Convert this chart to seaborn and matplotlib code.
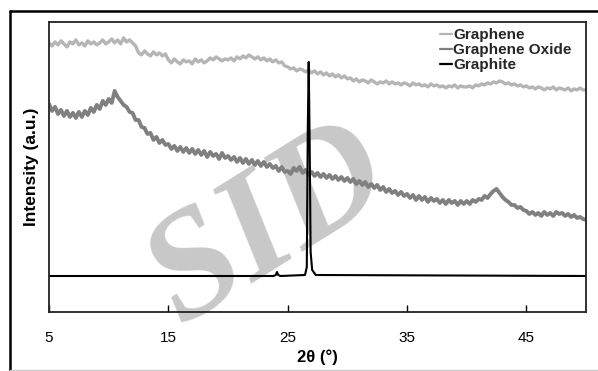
import numpy as np
import pandas as pd
import matplotlib
matplotlib.use('Agg')
import matplotlib.pyplot as plt
import seaborn as sns
from matplotlib.lines import Line2D

# XRD scan grid (2theta, deg) and intensities (a.u.)
two_theta = np.arange(5, 50.01, 0.25)

graphene = [
    269, 266, 270, 267, 271, 268, 265, 270, 268, 272, 267, 269, 266, 271, 268, 270, 267, 269, 272, 268,
    270, 273, 269, 272, 268, 274, 270, 272, 269, 266, 259, 257, 261, 258, 256, 260, 257, 259, 256, 258,
    252, 249, 253, 250, 248, 252, 250, 251, 248, 253, 250, 252, 249, 251, 254, 252, 255, 253, 251, 253,
    252, 254, 251, 255, 253, 256, 254, 257, 255, 253, 255, 252, 254, 251, 253, 250, 252, 249, 250, 246,
    245, 243, 244, 241, 243, 242, 240, 242, 239, 241, 238, 240, 237, 239, 236, 238, 235, 237, 234, 236,
    233, 234, 231, 233, 230, 232, 231, 229, 232, 230, 228, 230, 229, 231, 228, 230, 228, 229, 227, 229,
    228, 226, 229, 227, 228, 226, 227, 225, 228, 226, 227, 225, 226, 224, 226, 225, 227, 224, 226, 225,
    225, 226, 224, 227, 226, 228, 227, 229, 228, 230, 229, 231, 230, 228, 229, 227, 228, 226, 227, 225,
    226, 224, 225, 223, 225, 224, 222, 224, 223, 225, 222, 224, 223, 222, 224, 221, 223, 222, 224, 222,
    222,
]

graphene_oxide = [
    208, 201, 205, 198, 202, 196, 201, 195, 199, 194, 200, 195, 201, 197, 204, 200, 207, 203, 211, 207,
    213, 209, 221, 215, 211, 207, 205, 200, 199, 192, 192, 185, 184, 178, 179, 172, 175, 169, 172, 167,
    168, 163, 166, 161, 165, 160, 164, 159, 163, 158, 162, 157, 161, 155, 160, 156, 158, 153, 159, 154,
    156, 152, 155, 150, 154, 149, 153, 148, 152, 147, 151, 146, 150, 145, 148, 144, 146, 141, 145, 140,
    141, 138, 144, 141, 145, 139, 142, 137, 140, 136, 139, 135, 138, 134, 137, 133, 136, 132, 135, 131,
    134, 130, 133, 128, 131, 127, 130, 125, 128, 124, 127, 122, 125, 120, 123, 119, 121, 117, 120, 116,
    118, 114, 117, 112, 116, 112, 115, 110, 114, 111, 113, 109, 112, 108, 112, 109, 111, 107, 111, 108,
    111, 108, 112, 110, 113, 112, 116, 114, 118, 121, 123, 119, 115, 112, 110, 107, 107, 104, 105, 102,
    101, 98, 100, 97, 99, 96, 100, 97, 99, 96, 100, 98, 99, 96, 98, 95, 97, 94, 95, 93,
    92,
]

graphite_theta = [5, 23.8, 24.0, 24.1, 24.2, 24.4, 26.45, 26.6, 26.68, 26.76, 26.84, 26.92, 27.05, 27.35, 50]
graphite = [36, 36, 37, 40, 37, 36, 37, 45, 180, 250, 170, 60, 42, 37, 36]

sns.set_theme(style='white')
plt.rcParams['font.family'] = ['Liberation Sans', 'DejaVu Sans']

fig = plt.figure(figsize=(5.98, 3.71), dpi=100)
ax = fig.add_axes([0.082, 0.159, 0.898, 0.782])
ax.set_facecolor('none')

sns.lineplot(x=two_theta, y=graphene, color='#b5b5b5', lw=2.4, label='Graphene', ax=ax)
sns.lineplot(x=two_theta, y=graphene_oxide, color='#808080', lw=2.8, label='Graphene Oxide', ax=ax)
sns.lineplot(x=graphite_theta, y=graphite, color='black', lw=1.5, label='Graphite', ax=ax)

ax.set_xlim(5, 50)
ax.set_ylim(0, 290)
ax.set_xticks([5, 15, 25, 35, 45])
ax.set_yticks([])
ax.tick_params(axis='x', direction='in', length=5, width=1, pad=14, labelsize=11,
               colors='black', bottom=True)
for s in ax.spines.values():
    s.set_visible(True)
    s.set_color('#222222')
    s.set_linewidth(1.3)

ax.set_xlabel('2θ (°)', fontsize=12, fontweight='bold', labelpad=3, color='black')
ax.set_ylabel('Intensity (a.u.)', fontsize=12.5, fontweight='bold', labelpad=7, color='black')

leg = ax.legend(loc='upper left', bbox_to_anchor=(0.728, 0.978), frameon=False,
                prop=dict(weight='bold', size=11), handlelength=0.8, handletextpad=0.05,
                labelspacing=0.07, borderpad=0, borderaxespad=0)
for h in leg.get_lines():
    h.set_linewidth(1.6)

# watermark behind everything
fig.text(0.45, 0.385, 'SID', fontsize=110, family=['Liberation Serif', 'DejaVu Serif'],
         style='italic', weight='bold', color='#c8c8c8', rotation=32,
         ha='center', va='center', zorder=-1)

# outer frame of the original figure
fig.add_artist(Line2D([10 / 598, 1.0], [1 - 11 / 371] * 2, color='black', lw=1.8,
                      transform=fig.transFigure))
fig.add_artist(Line2D([10 / 598] * 2, [1 - 11 / 371, 0.0], color='black', lw=1.8,
                      transform=fig.transFigure))
fig.add_artist(Line2D([10 / 598, 1.0], [1.5 / 371] * 2, color='#cccccc', lw=1.0,
                      transform=fig.transFigure))

fig.savefig('out.png', dpi=100)
